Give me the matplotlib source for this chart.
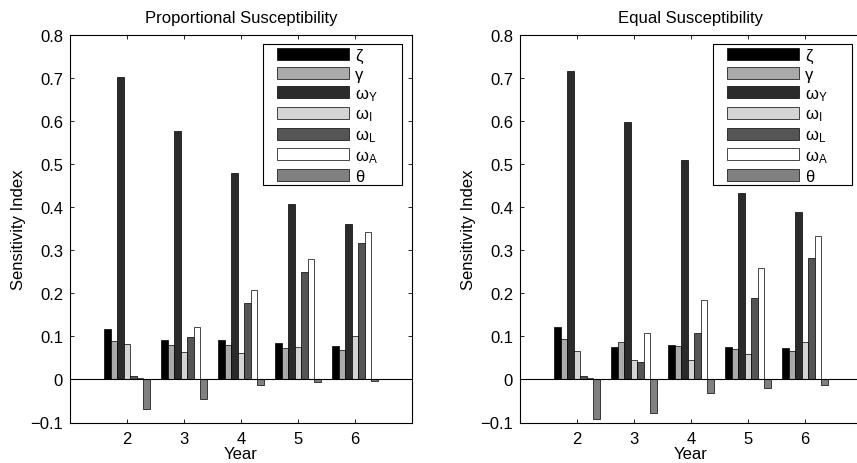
import matplotlib
matplotlib.use('Agg')
import matplotlib.pyplot as plt
from matplotlib.patches import Rectangle
import numpy as np

plt.rcParams['font.family'] = ['Liberation Sans', 'DejaVu Sans']
plt.rcParams['mathtext.fontset'] = 'custom'
plt.rcParams['mathtext.rm'] = 'Liberation Sans'
plt.rcParams['mathtext.it'] = 'Liberation Sans:italic'
plt.rcParams['axes.unicode_minus'] = True

years = [2, 3, 4, 5, 6]
param_labels = ['ζ', 'γ', r'ω$_\mathrm{Y}$', r'ω$_\mathrm{I}$', r'ω$_\mathrm{L}$', r'ω$_\mathrm{A}$', 'θ']
param_colors = ['#000000', '#aaaaaa', '#2b2b2b', '#d4d4d4', '#555555', '#ffffff', '#808080']
ytick_values = [-0.1, 0, 0.1, 0.2, 0.3, 0.4, 0.5, 0.6, 0.7, 0.8]
ytick_labels = ['−0.1', '0', '0.1', '0.2', '0.3', '0.4', '0.5', '0.6', '0.7', '0.8']

# Proportional susceptibility
prop_zeta    = [0.118, 0.091, 0.091, 0.084, 0.077]
prop_gamma   = [0.090, 0.080, 0.080, 0.074, 0.068]
prop_omegaY  = [0.702, 0.577, 0.480, 0.408, 0.362]
prop_omegaI  = [0.083, 0.063, 0.062, 0.075, 0.100]
prop_omegaL  = [0.009, 0.099, 0.177, 0.249, 0.317]
prop_omegaA  = [0.004, 0.121, 0.207, 0.280, 0.342]
prop_theta   = [-0.069, -0.046, -0.012, -0.005, -0.004]

# Equal susceptibility
eq_zeta    = [0.121, 0.076, 0.079, 0.076, 0.074]
eq_gamma   = [0.093, 0.086, 0.077, 0.070, 0.066]
eq_omegaY  = [0.717, 0.599, 0.510, 0.432, 0.388]
eq_omegaI  = [0.065, 0.046, 0.045, 0.059, 0.087]
eq_omegaL  = [0.007, 0.041, 0.107, 0.190, 0.282]
eq_omegaA  = [0.003, 0.109, 0.184, 0.258, 0.334]
eq_theta   = [-0.093, -0.079, -0.032, -0.020, -0.012]

panels = [
    ('Proportional Susceptibility',
     [prop_zeta, prop_gamma, prop_omegaY, prop_omegaI, prop_omegaL, prop_omegaA, prop_theta]),
    ('Equal Susceptibility',
     [eq_zeta, eq_gamma, eq_omegaY, eq_omegaI, eq_omegaL, eq_omegaA, eq_theta]),
]

W, H = 857, 464
fig = plt.figure(figsize=(W / 100, H / 100), dpi=100)
ax_left_px = [70, 520]
ax_w_px = 342
ax_top_px, ax_bot_px = 36, 423.5

fs = 12
fs_px = fs * 100 / 72
for (title, series), lx in zip(panels, ax_left_px):
    ax = fig.add_axes([lx / W, (H - ax_bot_px) / H, ax_w_px / W, (ax_bot_px - ax_top_px) / H])
    n = len(series)
    bw = 0.8 / n
    x = np.array(years, dtype=float)
    for i, (vals, lab, col) in enumerate(zip(series, param_labels, param_colors)):
        ax.bar(x + (i - (n - 1) / 2) * bw, vals, width=bw, color=col,
               edgecolor='black', linewidth=0.5, label=lab, zorder=2)
    ax.axhline(0, color='black', linewidth=0.8, zorder=3)
    ax.set_xlim(1, 7)
    ax.set_ylim(-0.1, 0.8)
    ax.set_xticks(years)
    ax.set_yticks(ytick_values)
    ax.set_yticklabels(ytick_labels)
    ax.tick_params(direction='in', top=True, right=True, length=3, width=0.6,
                   labelsize=fs)
    ax.tick_params(axis='x', pad=6)
    ax.tick_params(axis='y', pad=5)
    for sp in ax.spines.values():
        sp.set_linewidth(0.8)
    ax.set_title(title, fontsize=fs, pad=9)
    ax.set_xlabel('Year', fontsize=fs, labelpad=0)
    ax.set_ylabel('Sensitivity Index', fontsize=fs, labelpad=3)

    # legend frame (Matlab style box)
    fl, fr, ft, fb = lx + 193, lx + 332, 45, 186
    frame = Rectangle((fl / W, (H - fb) / H), (fr - fl) / W, (fb - ft) / H,
                      transform=fig.transFigure, facecolor='white',
                      edgecolor='black', linewidth=0.8, zorder=4, clip_on=False)
    ax.add_artist(frame)
    leg = ax.legend(loc='upper left',
                    bbox_to_anchor=((fl + 14) / W, (H - ft - 4) / H),
                    bbox_transform=fig.transFigure,
                    borderaxespad=0, borderpad=0, fontsize=fs, frameon=False,
                    handlelength=72 / fs_px, handleheight=12 / fs_px,
                    labelspacing=0.24, handletextpad=0.35)
    leg.set_zorder(5)

fig.savefig('out.png', dpi=100)
